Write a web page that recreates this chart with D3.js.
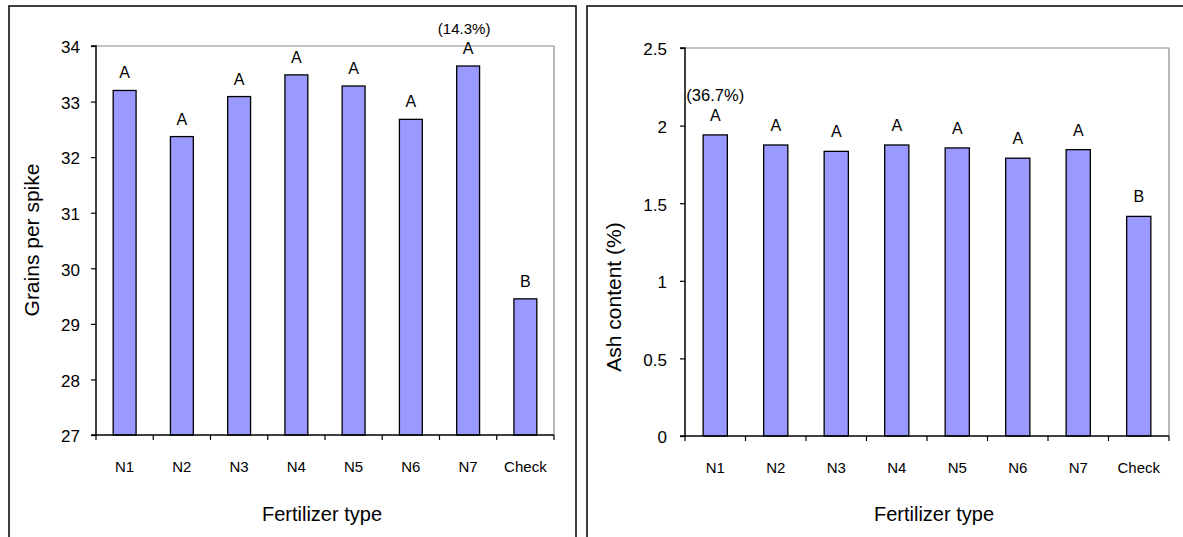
<!DOCTYPE html>
<html><head><meta charset="utf-8">
<script src="https://cdn.jsdelivr.net/npm/d3@7"></script>
<style>
html,body{margin:0;padding:0;background:#fff;}
svg{display:block;font-family:"Liberation Sans",Arial,sans-serif;}
</style></head>
<body>
<svg id="c" width="1183" height="537"></svg>
<script>
const categories = ["N1","N2","N3","N4","N5","N6","N7","Check"];
const grainsValues = [33.2, 32.37, 33.09, 33.48, 33.28, 32.68, 33.64, 29.45];
const grainsLetters = ["A","A","A","A","A","A","A","B"];
const grainsTicks = [27,28,29,30,31,32,33,34];
const ashValues = [1.94, 1.875, 1.834, 1.875, 1.856, 1.79, 1.845, 1.415];
const ashLetters = ["A","A","A","A","A","A","A","B"];
const ashTicks = [0,0.5,1,1.5,2,2.5];
const grainsNote = {index: 6, text: "(14.3%)"};
const ashNote = {index: 0, text: "(36.7%)"};

const svg = d3.select("#c");

// panel borders
svg.append("path").attr("d","M9,540 V6 H576 V540").attr("fill","none").attr("stroke","#000").attr("stroke-width",1.5);
svg.append("path").attr("d","M587,540 V6 H1190").attr("fill","none").attr("stroke","#000").attr("stroke-width",1.5);

function drawChart(o){
  const x = d3.scaleBand().domain(categories).range([o.x0,o.x1]).padding(0);
  const y = d3.scaleLinear().domain(o.domain).range([o.y0,o.y1]);
  const g = svg.append("g");
  g.append("path").attr("d",`M${o.x0},${o.y1} H${o.x1} V${o.y0}`).attr("fill","none").attr("stroke","#8c8c8c").attr("stroke-width",1.2);
  const bw = x.bandwidth();
  g.selectAll("rect.bar").data(o.values).enter().append("rect")
    .attr("x",(d,i)=>x(categories[i])+bw*0.3)
    .attr("width",bw*0.4)
    .attr("y",d=>y(d))
    .attr("height",d=>y(o.domain[0])-y(d))
    .attr("fill","#9999ff").attr("stroke","#000").attr("stroke-width",1.3);
  g.selectAll("text.lab").data(o.values).enter().append("text")
    .attr("x",(d,i)=>x(categories[i])+bw/2)
    .attr("y",d=>y(d)-o.labOff)
    .attr("text-anchor","middle").attr("font-size",16).attr("fill","#000")
    .text((d,i)=>o.letters[i]);
  const ni = o.note.index;
  g.append("text").attr("x",x(categories[ni])+bw/2+o.noteDx).attr("y",y(o.values[ni])-o.labOff-o.noteOff)
    .attr("text-anchor","middle").attr("font-size",o.noteSize).text(o.note.text);
  const ya = d3.axisLeft(y).tickValues(o.ticks).tickSize(5).tickPadding(o.tickPad).tickFormat(d3.format("~g"));
  const yg = g.append("g").attr("transform",`translate(${o.x0},0)`).call(ya);
  yg.select(".domain").attr("stroke","#000").attr("stroke-width",1.5).attr("d",`M-5,${o.y0}H0V${o.y1}H-5`);
  yg.selectAll(".tick line").attr("stroke","#000").attr("stroke-width",1.2);
  yg.selectAll(".tick text").attr("font-size",17).attr("font-family","Liberation Sans, Arial, sans-serif").attr("fill","#000").attr("dy","0.4em");
  const xa = d3.axisBottom(x).tickSize(0).tickPadding(0);
  const xg = g.append("g").attr("transform",`translate(0,${o.y0})`).call(xa);
  xg.select(".domain").attr("stroke","#000").attr("stroke-width",1.5).attr("d",`M${o.x0},0H${o.x1}`);
  xg.selectAll(".tick text").attr("font-size",15).attr("font-family","Liberation Sans, Arial, sans-serif").attr("fill","#000").attr("y",37).attr("dy",0);
  const bounds = categories.map(c=>x(c)).concat([o.x1]);
  xg.selectAll("line.bt").data(bounds).enter().append("line")
    .attr("x1",d=>d).attr("x2",d=>d).attr("y1",0).attr("y2",5).attr("stroke","#000").attr("stroke-width",1.2);
  g.append("text").attr("x",o.xtX).attr("y",521).attr("text-anchor","middle").attr("font-size",20).text("Fertilizer type");
  g.append("text").attr("transform",`translate(${o.ytX},${o.ytY}) rotate(-90)`).attr("text-anchor","middle").attr("font-size",21).text(o.ytitle);
}

drawChart({x0:96,x1:554,y0:435,y1:46,domain:[27,34],values:grainsValues,letters:grainsLetters,ticks:grainsTicks,
  note:grainsNote,noteDx:-4,noteOff:20,noteSize:15,labOff:12,tickPad:11,xtX:322,ytX:39,ytY:240,ytitle:"Grains per spike"});
drawChart({x0:685,x1:1169,y0:436,y1:48,domain:[0,2.5],values:ashValues,letters:ashLetters,ticks:ashTicks,
  note:ashNote,noteDx:0,noteOff:20,noteSize:16.5,labOff:14,tickPad:13,xtX:934,ytX:621,ytY:297,ytitle:"Ash content (%)"});
</script>
</body></html>
